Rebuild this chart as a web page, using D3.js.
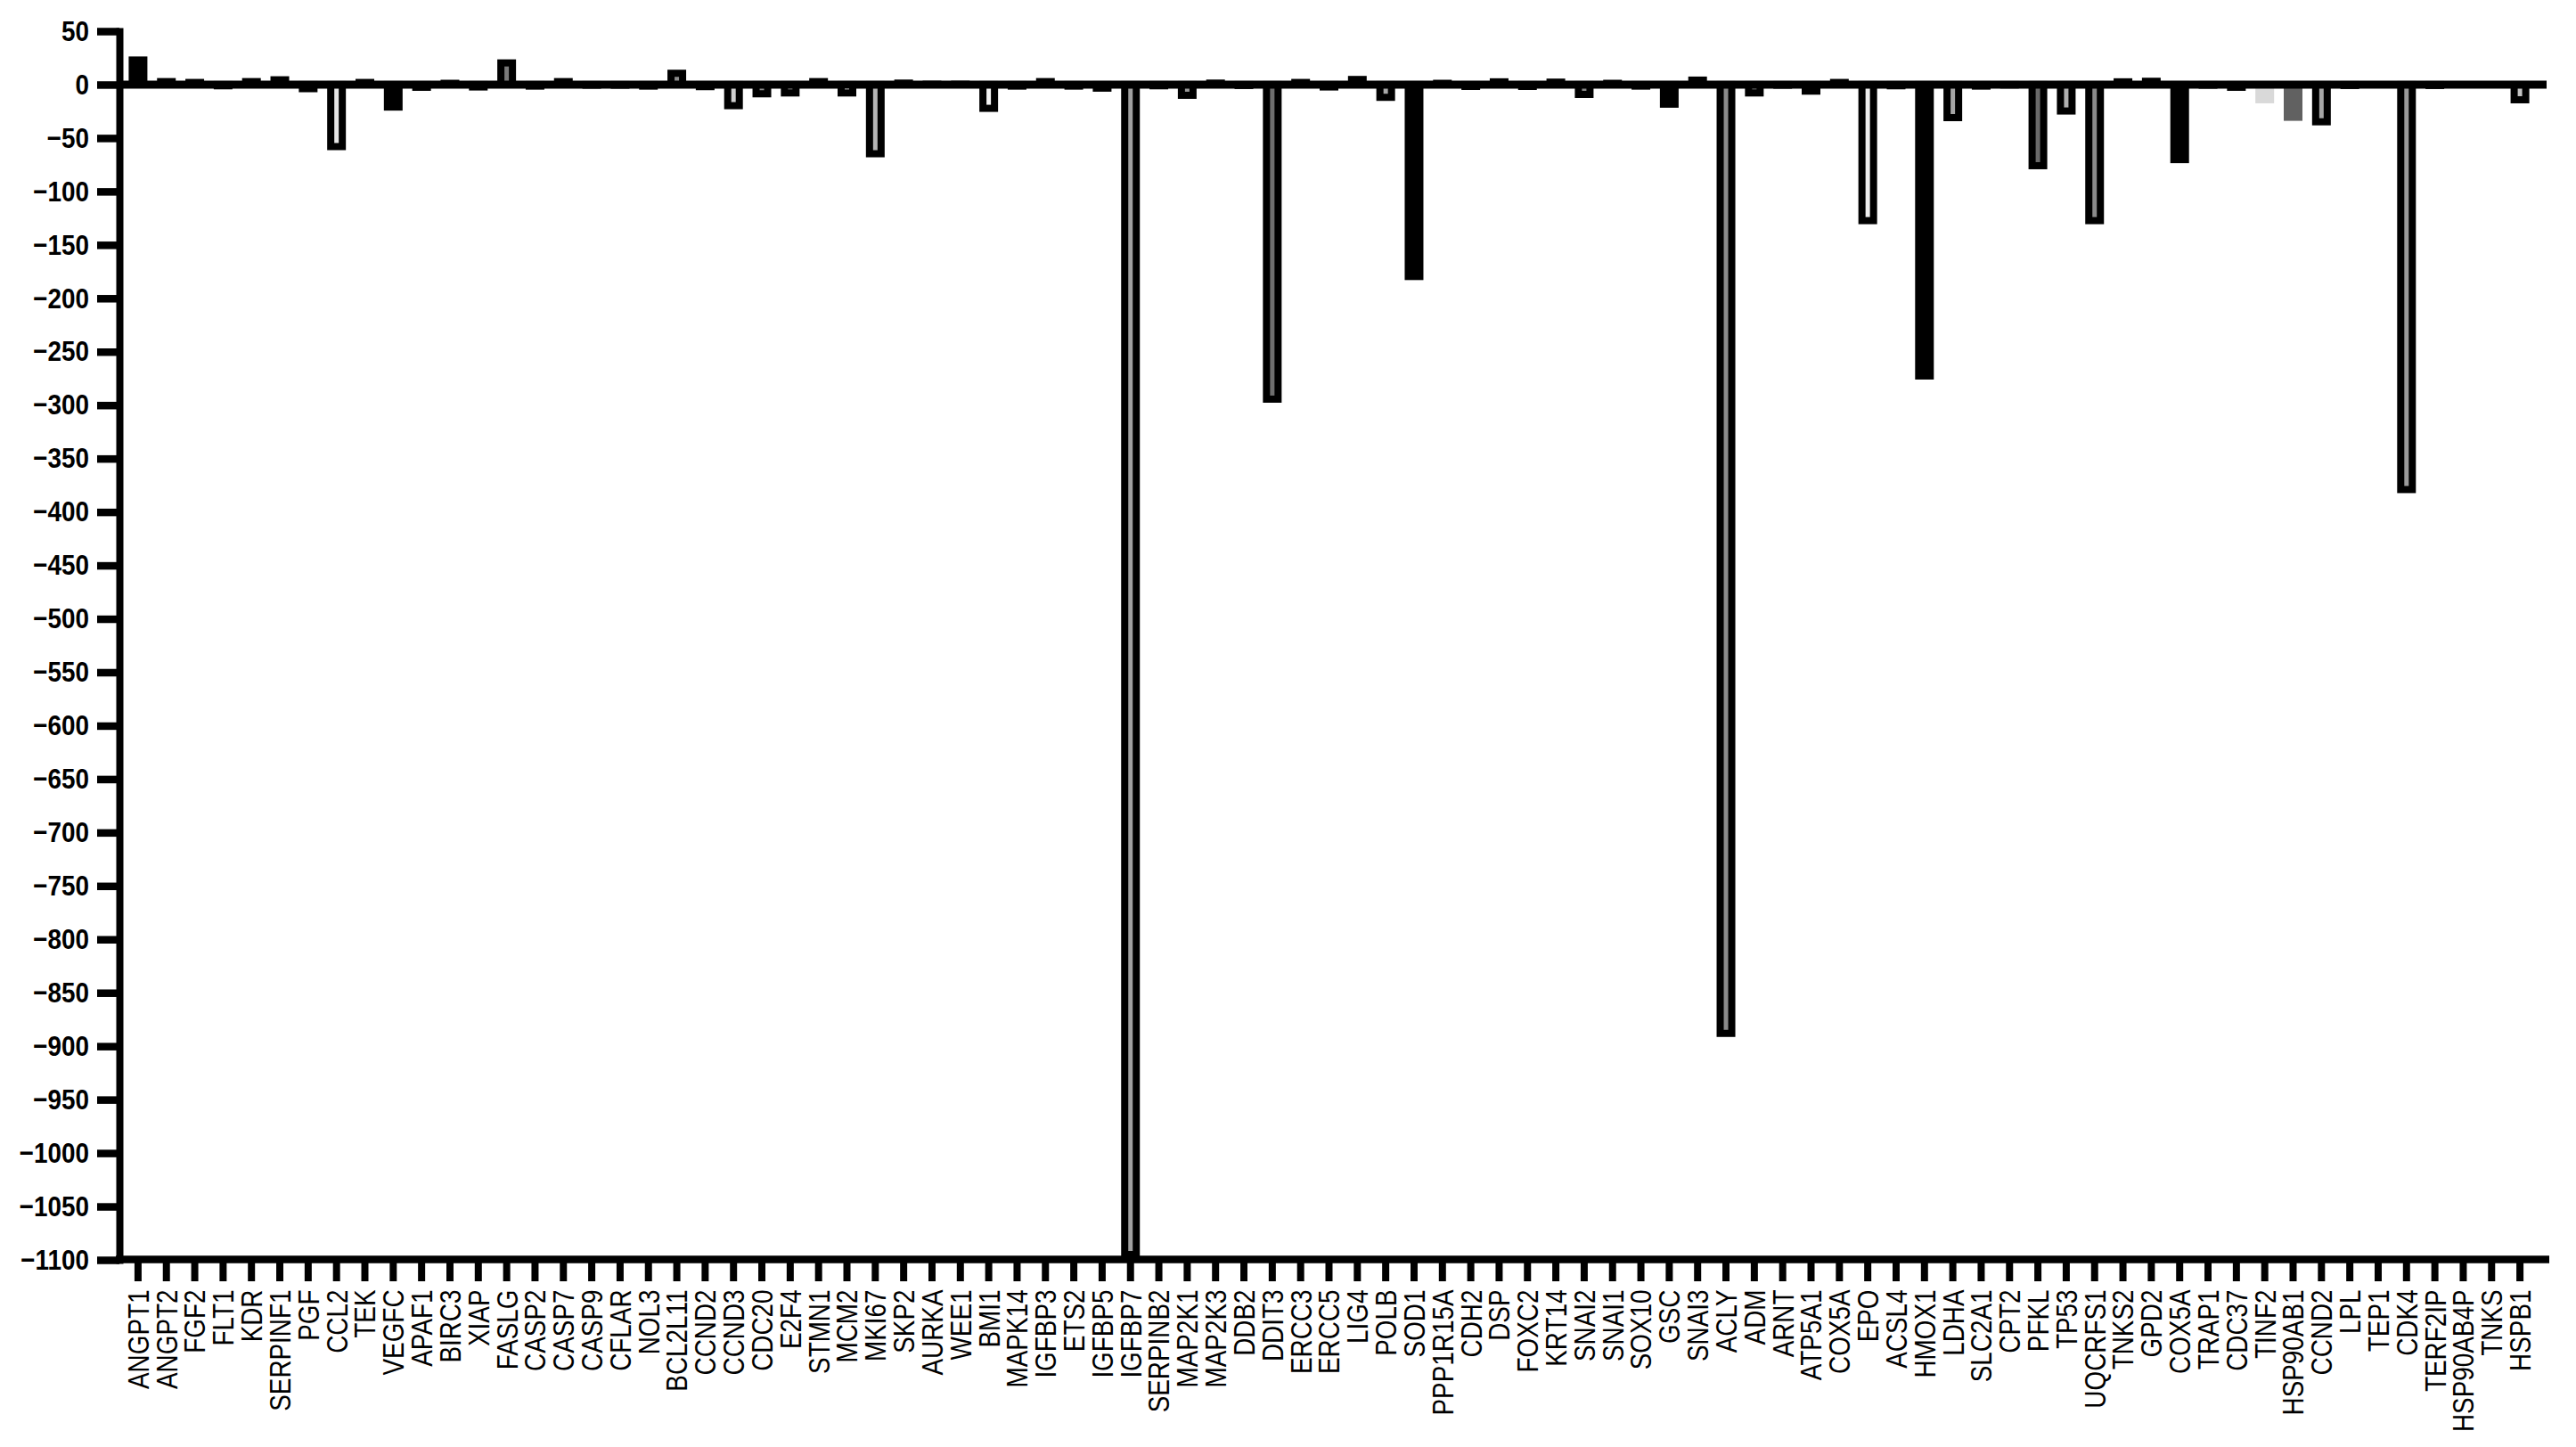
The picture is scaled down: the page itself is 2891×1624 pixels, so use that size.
<!DOCTYPE html>
<html>
<head>
<meta charset="utf-8">
<script src="https://cdn.jsdelivr.net/npm/d3@7"></script>
<style>
  body { margin: 0; background: #fff; }
  text { font-family: "Liberation Sans", Arial, sans-serif; }
</style>
</head>
<body>
<svg id="chart" width="2891" height="1624"></svg>
<script>
// gènes (ordre de l'axe X)
const genes = ["ANGPT1","ANGPT2","FGF2","FLT1","KDR","SERPINF1","PGF","CCL2","TEK","VEGFC",
  "APAF1","BIRC3","XIAP","FASLG","CASP2","CASP7","CASP9","CFLAR","NOL3","BCL2L11",
  "CCND2","CCND3","CDC20","E2F4","STMN1","MCM2","MKI67","SKP2","AURKA","WEE1",
  "BMI1","MAPK14","IGFBP3","ETS2","IGFBP5","IGFBP7","SERPINB2","MAP2K1","MAP2K3","DDB2",
  "DDIT3","ERCC3","ERCC5","LIG4","POLB","SOD1","PPP1R15A","CDH2","DSP","FOXC2",
  "KRT14","SNAI2","SNAI1","SOX10","GSC","SNAI3","ACLY","ADM","ARNT","ATP5A1",
  "COX5A","EPO","ACSL4","HMOX1","LDHA","SLC2A1","CPT2","PFKL","TP53","UQCRFS1",
  "TNKS2","GPD2","COX5A","TRAP1","CDC37","TINF2","HSP90AB1","CCND2","LPL","TEP1",
  "CDK4","TERF2IP","HSP90AB4P","TNKS","HSPB1"];

// valeurs
const values = [23, 2.8, 2, -1.1, 2.8, 4.5, -3.8, -58, 2, -21,
  -2.5, 1.2, -2.2, 20.3, -1.4, 2.8, -0.5, -0.5, -1.4, 10.6,
  -1.9, -19.7, -8.6, -7.8, 2.8, -7.8, -64.7, 1.4, 0.3, 0.3,
  -22.2, -1.4, 2.8, -1.4, -3.3, -1095, -1.1, -10, 1.4, -0.8,
  -294.4, 2, -2.2, 4.8, -11.9, -179.6, 1.2, -1.7, 2.6, -1.7,
  2.3, -9.2, 1.2, -1.4, -18.3, 4.2, -888, -7.8, -0.5, -6.1,
  2, -127.3, -1.1, -272.7, -30.9, -1.4, -0.3, -75.9, -24.7, -127.3,
  2.6, 3.1, -70.2, -0.5, -2.5, -17.5, -33.9, -34.8, -0.8, -2,
  -379, -0.8, -2, -2, -14.2];

const yTicks = d3.range(50, -1101, -50);

// style des barres (remplissage ; noBorder = pas de contour)
const barFill = ["#000","#000","#000","#000","#000","#000","#000","#e6e6e6","#000","#000",
  "#000","#000","#000","#7a7a7a","#000","#000","#000","#000","#000","#8c8c8c",
  "#000","#d0d0d0","#8c8c8c","#999","#000","#f0f0f0","#b4b4b4","#000","#000","#000",
  "#f4f4f4","#000","#000","#000","#000","#a0a0a0","#000","#999","#000","#000",
  "#6e6e6e","#000","#000","#000","#a8a8a8","#000","#000","#000","#000","#000",
  "#000","#888","#000","#000","#000","#000","#8a8a8a","#888","#000","#000",
  "#000","#eeeeee","#000","#000","#a6a6a6","#000","#000","#6a6a6a","#b0b0b0","#8a8a8a",
  "#000","#000","#000","#000","#000","#d9d9d9","#616161","#a6a6a6","#000","#ececec",
  "#9a9a9a","#000","#c8c8c8","#bdbdbd","#c4c4c4"];
const noBorder = new Set([75, 76, 79, 82, 83]);

// police étroite simulée (pas d'Arial Narrow installée)
const NARROW_Y = 0.87, NARROW_X = 0.82;
const svg = d3.select("#chart");

const x = d3.scaleBand().domain(d3.range(genes.length)).range([139, 2844]).padding(0);
const y = d3.scaleLinear().domain([-1100, 50]).range([1414, 35]);

const data = genes.map((g, i) => ({ i, gene: g, value: values[i] }));

// barres
svg.append("g").selectAll("rect").data(data).join("rect")
  .attr("x", d => x(d.i) + x.bandwidth() / 2 - (noBorder.has(d.i) ? 10.5 : 6.5))
  .attr("width", d => noBorder.has(d.i) ? 21 : 13)
  .attr("y", d => Math.min(y(0), y(d.value)))
  .attr("height", d => Math.abs(y(d.value) - y(0)))
  .attr("fill", d => barFill[d.i])
  .attr("stroke", d => noBorder.has(d.i) ? "none" : "#000")
  .attr("stroke-width", 8);

// ligne du zéro
svg.append("line")
  .attr("x1", 134).attr("x2", 2858)
  .attr("y1", y(0)).attr("y2", y(0))
  .attr("stroke", "#000").attr("stroke-width", 9);

// axe Y
const yAxis = svg.append("g").attr("transform", "translate(134,0)")
  .call(d3.axisLeft(y).tickValues(yTicks).tickFormat(d3.format("d")).tickSize(25).tickSizeOuter(0).tickPadding(9));
yAxis.select(".domain").attr("stroke-width", 8).attr("stroke-linecap", "square");
yAxis.selectAll(".tick line").attr("stroke-width", 8.5);
yAxis.selectAll(".tick text")
  .attr("font-size", 32).attr("font-weight", "bold")
  .attr("x", -34 / NARROW_Y)
  .attr("transform", `scale(${NARROW_Y},1)`);

// axe X
const xAxis = svg.append("g").attr("transform", "translate(0,1413.5)")
  .call(d3.axisBottom(x).tickSize(24.5).tickSizeOuter(0).tickFormat(i => genes[i]));
xAxis.select(".domain").remove();
xAxis.selectAll(".tick line").attr("stroke-width", 8);
xAxis.selectAll(".tick text")
  .attr("transform", `rotate(-90) scale(${NARROW_X},1)`)
  .attr("text-anchor", "end")
  .attr("x", -34 / NARROW_X).attr("y", 0).attr("dy", "0.35em")
  .attr("font-size", 34);
svg.append("line")
  .attr("x1", 130).attr("x2", 2861)
  .attr("y1", 1413.5).attr("y2", 1413.5)
  .attr("stroke", "#000").attr("stroke-width", 8.5);
</script>
</body>
</html>
